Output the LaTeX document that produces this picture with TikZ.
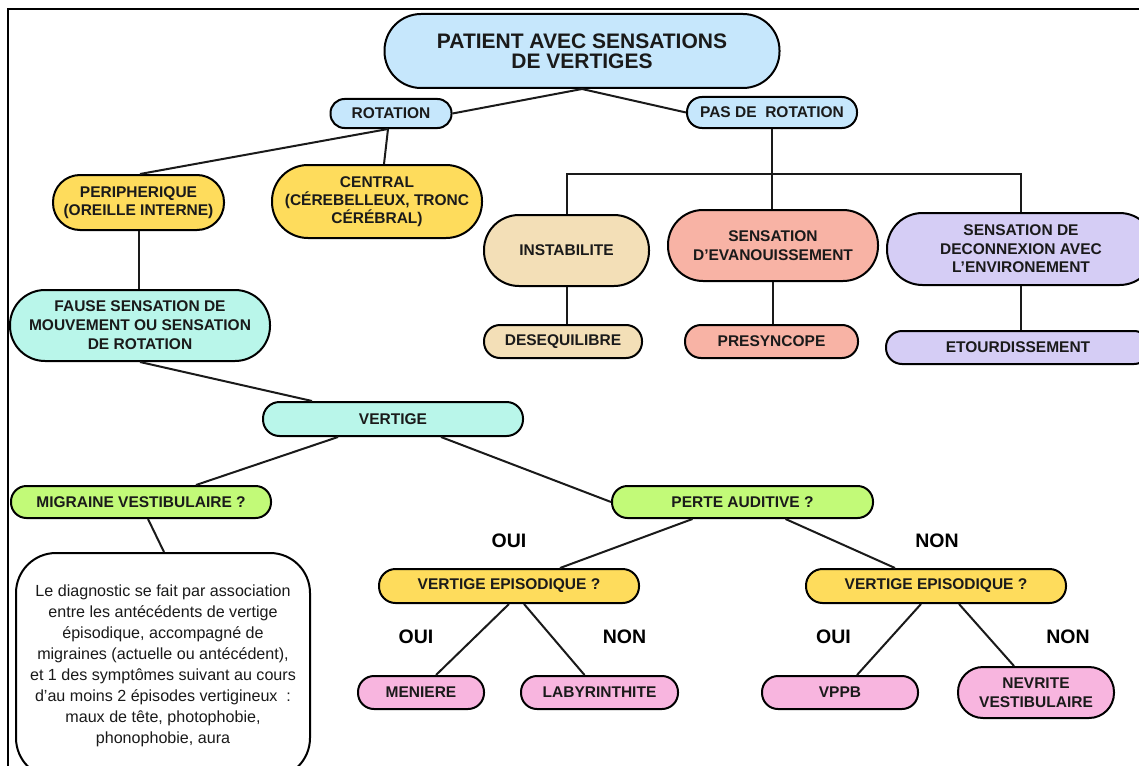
\documentclass[tikz,border=0pt]{standalone}
\usepackage{fontspec}
\setmainfont{Liberation Sans}
\usetikzlibrary{calc}
\definecolor{cblue}{HTML}{C6E7FC}
\definecolor{cyellow}{HTML}{FEDC5C}
\definecolor{cmint}{HTML}{B9F6EA}
\definecolor{cgreen}{HTML}{C2FA78}
\definecolor{ctan}{HTML}{F3DFB7}
\definecolor{csalmon}{HTML}{F8B3A5}
\definecolor{clav}{HTML}{D5CDF5}
\definecolor{cpink}{HTML}{F8B5DF}
\definecolor{ctext}{HTML}{1A1A1A}
\tikzset{
  box/.style={draw=black, line width=2pt, align=center, inner sep=0pt, text=ctext,
    font=\bfseries\fontsize{15.5}{18.5}\selectfont},
  pill/.style args={#1x#2}{box, minimum width=#1, minimum height=#2, rounded corners=#2/2-0.5},
  conn/.style={line width=2pt, draw=ctext},
  answer/.style={font=\bfseries\fontsize{19.5}{19.5}\selectfont, text=black, inner sep=0pt},
}
\begin{document}
\begin{tikzpicture}[x=1pt, y=-1pt]
\clip (0,0) rectangle (1139,765);
\fill[white] (0,0) rectangle (1139,765);
\draw[line width=2.2pt] (8,9) rectangle (1160,790);

% nodes
\node[pill=395x74, fill=cblue, font=\bfseries\fontsize{21}{20}\selectfont] (title) at (582,51) {PATIENT AVEC SENSATIONS\\DE VERTIGES};
\node[pill=121x29, fill=cblue] (rot) at (391,113.5) {ROTATION};
\node[pill=170x31, fill=cblue] (pas) at (772,112.5) {PAS DE\ \ ROTATION};
\node[pill=171x55, fill=cyellow] (peri) at (138.5,202.5) {PERIPHERIQUE\\(OREILLE INTERNE)};
\node[pill=210x73, fill=cyellow, font=\bfseries\fontsize{15.5}{18}\selectfont] (central) at (377,201.5) {CENTRAL\\(CÉREBELLEUX, TRONC\\CÉRÉBRAL)};
\node[pill=260x71, fill=cmint, font=\bfseries\fontsize{15.5}{19}\selectfont] (fause) at (140,325.5) {FAUSE SENSATION DE\\MOUVEMENT OU SENSATION\\DE ROTATION};
\node[pill=260x34, fill=cmint] (vertige) at (393,419) {VERTIGE};
\node[pill=260x32, fill=cgreen] (migraine) at (141,502) {MIGRAINE VESTIBULAIRE ?};
\node[pill=261x32, fill=cgreen] (perte) at (742.5,502) {PERTE AUDITIVE ?};
\node[box, minimum width=294, minimum height=225, rounded corners=40, fill=white,
  font=\fontsize{16.1}{21}\selectfont] (diag) at (163,665.5)
  {Le diagnostic se fait par association\\entre les antécédents de vertige\\épisodique, accompagné de\\migraines (actuelle ou antécédent),\\et 1 des symptômes suivant au cours\\d’au moins 2 épisodes vertigineux\ \ :\\maux de tête, photophobie,\\phonophobie, aura};
\node[pill=260x34, fill=cyellow] (ve1) at (509,586) {VERTIGE EPISODIQUE ?};
\node[pill=260x34, fill=cyellow] (ve2) at (936,586) {VERTIGE EPISODIQUE ?};
\node[pill=126x33, fill=cpink] (meniere) at (421,692.5) {MENIERE};
\node[pill=157x33, fill=cpink] (laby) at (599.5,692.5) {LABYRINTHITE};
\node[pill=156x33, fill=cpink] (vppb) at (840,692.5) {VPPB};
\node[pill=156x51, fill=cpink] (nevrite) at (1036,692.5) {NEVRITE\\VESTIBULAIRE};
\node[pill=165x71, fill=ctan] (instab) at (566.5,250.5) {INSTABILITE};
\node[pill=210x71, fill=csalmon] (evan) at (773,245.5) {SENSATION\\D’EVANOUISSEMENT};
\node[pill=268x72, fill=clav] (decon) at (1021,249) {SENSATION DE\\DECONNEXION AVEC\\L’ENVIRONEMENT};
\node[pill=158x33, fill=ctan] (deseq) at (563,341.5) {DESEQUILIBRE};
\node[pill=173x33, fill=csalmon] (presync) at (771.5,341.5) {PRESYNCOPE};
\node[pill=264x33, fill=clav] (etourd) at (1018,347.5) {ETOURDISSEMENT};

% answer labels
\node[answer] (oui1) at (509,541) {OUI};
\node[answer] (non1) at (937,541) {NON};
\node[answer] (oui2) at (416,637) {OUI};
\node[answer] (non2) at (624.5,637) {NON};
\node[answer] (oui3) at (833.5,637) {OUI};
\node[answer] (non3) at (1068,637) {NON};

% connectors
\coordinate (bus) at (772,174);
\draw[conn] (rot.east) -- (title.south);
\draw[conn] (title.south) -- (pas.west);
\draw[conn] ([xshift=-3pt]rot.south) -- ([xshift=1.5pt]peri.north);
\draw[conn] ([xshift=-3pt]rot.south) -- ([xshift=7pt]central.north);
\draw[conn] (pas.south) -- (pas.south |- evan.north);
\draw[conn] (instab.north) |- (bus) -| (decon.north);
\draw[conn] (instab.south) -- (instab.south |- deseq.north);
\draw[conn] (evan.south) -- (evan.south |- presync.north);
\draw[conn] (decon.south) -- (decon.south |- etourd.north);
\draw[conn] (peri.south) -- (peri.south |- fause.north);
\draw[conn] (fause.south) -- ([xshift=-81pt]vertige.north);
\draw[conn] ([xshift=-55pt]vertige.south) -- ([xshift=55pt]migraine.north);
\draw[conn] ([xshift=48pt]vertige.south) -- (perte.west);
\draw[conn] ([xshift=7pt]migraine.south) -- ([xshift=1pt]diag.north);
\draw[conn] ([xshift=-50pt]perte.south) -- ([xshift=51pt]ve1.north);
\draw[conn] ([xshift=43pt]perte.south) -- ([xshift=-41pt]ve2.north);
\draw[conn] (ve1.south) -- ([xshift=15pt]meniere.north);
\draw[conn] ([xshift=15pt]ve1.south) -- ([xshift=-15pt]laby.north);
\draw[conn] ([xshift=-15pt]ve2.south) -- ([xshift=17pt]vppb.north);
\draw[conn] ([xshift=23pt]ve2.south) -- ([xshift=-22pt]nevrite.north);
\end{tikzpicture}
\end{document}
